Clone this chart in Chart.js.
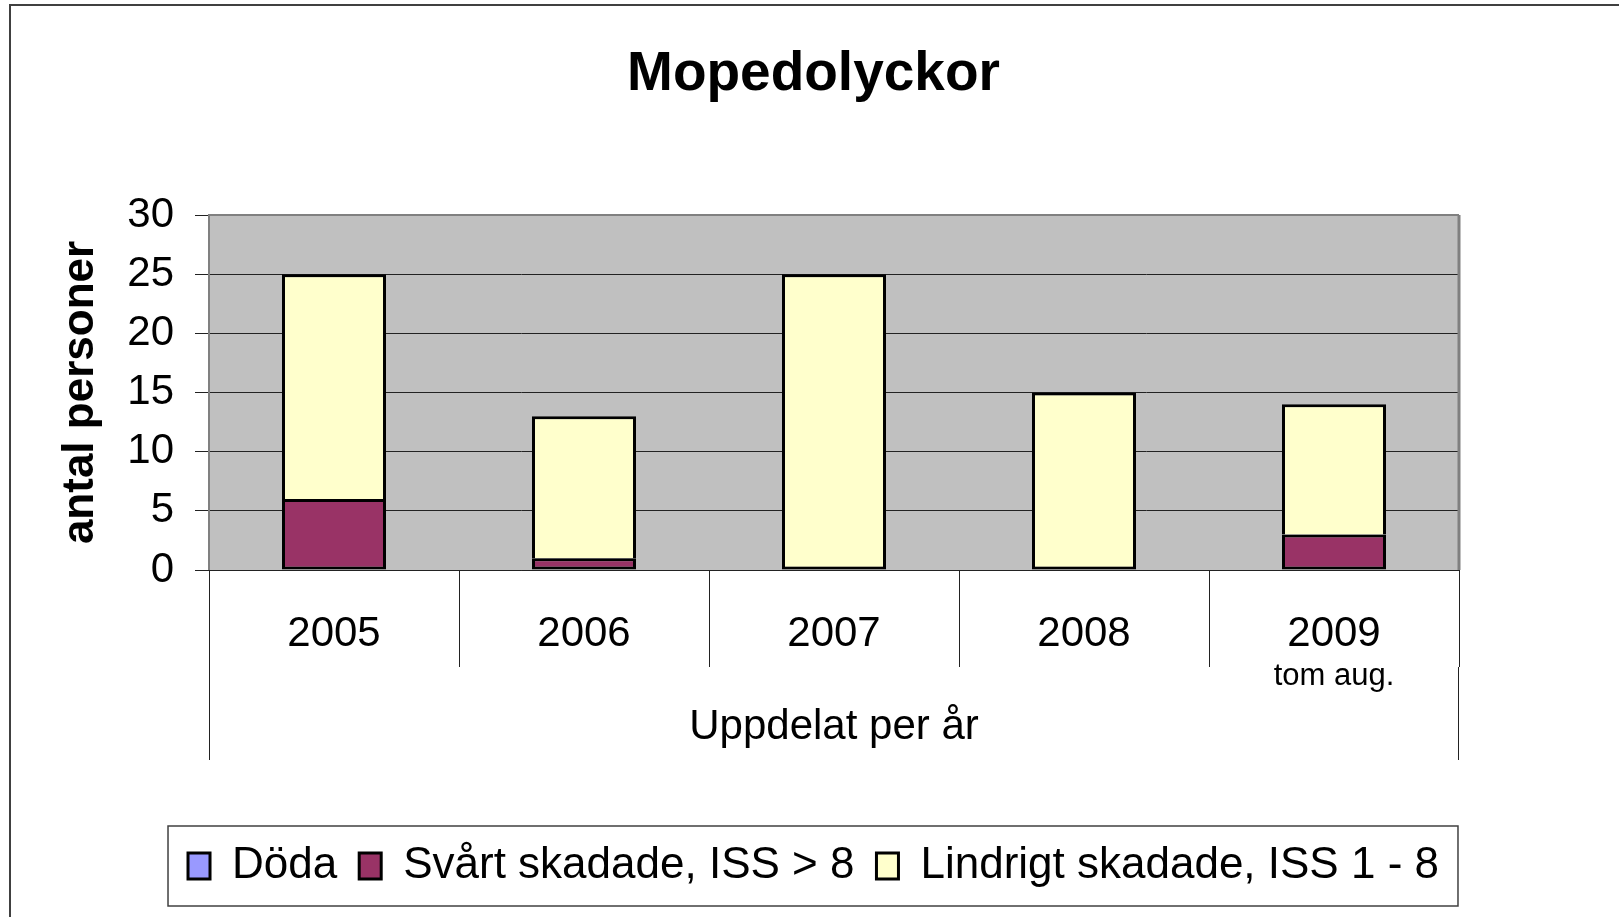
<!DOCTYPE html>
<html>
<head>
<meta charset="utf-8">
<script src="https://cdn.jsdelivr.net/npm/chart.js@4.4.0/dist/chart.umd.min.js"></script>
<style>
html, body { margin: 0; padding: 0; background: #fff; }
#wrap { width: 1619px; height: 917px; }
</style>
</head>
<body>
<div id="wrap"><canvas id="grafica" width="1619" height="917"></canvas></div>
<script>
// Datos del diagrama
const ar = ['2005', '2006', '2007', '2008', '2009'];
const underText = ['', '', '', '', 'tom aug.'];
const doda = [0, 0, 0, 0, 0];
const svart = [6, 1, 0, 0, 3];
const lindrigt = [19, 12, 25, 15, 11];
const yMin = 0, yMax = 30, yStep = 5;

const fam = "'Liberation Sans', Arial, sans-serif";

// Fondo gris, marco y detalles que Chart.js no dibuja solo
const ramPlugin = {
    id: 'ram',
    beforeDraw(chart) {
        const {ctx, chartArea: a} = chart;
        ctx.save();
        ctx.fillStyle = '#c0c0c0';
        ctx.fillRect(a.left, a.top, a.right - a.left, a.bottom - a.top);
        // marco exterior
        ctx.strokeStyle = '#404040';
        ctx.lineWidth = 2;
        ctx.beginPath();
        ctx.moveTo(10, chart.height);
        ctx.lineTo(10, 5);
        ctx.lineTo(chart.width, 5);
        ctx.stroke();
        ctx.restore();
    },
    beforeDatasetsDraw(chart) {
        const {ctx, chartArea: a} = chart;
        ctx.save();
        ctx.strokeStyle = '#808080';
        ctx.lineWidth = 2;
        ctx.beginPath();
        ctx.moveTo(a.left, a.bottom);
        ctx.lineTo(a.left, a.top);
        ctx.lineTo(a.right, a.top);
        ctx.stroke();
        ctx.lineWidth = 3;
        ctx.beginPath();
        ctx.moveTo(a.right, a.top);
        ctx.lineTo(a.right, a.bottom);
        ctx.stroke();
        ctx.restore();
    },
    afterDraw(chart) {
        const {ctx, chartArea: a} = chart;
        const x = chart.scales.x;
        ctx.save();
        // lineas exteriores largas bajo el eje x
        ctx.strokeStyle = '#222';
        ctx.lineWidth = 1;
        const y0 = x.top + x.options.grid.tickLength;
        ctx.beginPath();
        ctx.moveTo(a.left + 0.5, y0);
        ctx.lineTo(a.left + 0.5, x.top + 190);
        ctx.moveTo(a.right - 0.5, y0);
        ctx.lineTo(a.right - 0.5, x.top + 190);
        ctx.stroke();
        // texto secundario bajo las etiquetas
        ctx.fillStyle = '#000';
        ctx.font = '31px ' + fam;
        ctx.textAlign = 'center';
        ctx.textBaseline = 'middle';
        underText.forEach((t, i) => {
            if (t) ctx.fillText(t, x.getPixelForTick(i), x.top + 106);
        });
        // caja de la leyenda
        const hb = chart.legend.legendHitBoxes;
        if (hb && hb.length) {
            const l = hb[0].left - 20;
            const last = hb[hb.length - 1];
            const r = last.left + last.width + 19;
            const t = hb[0].top - 18;
            const b = hb[0].top + hb[0].height + 18;
            ctx.strokeStyle = '#404040';
            ctx.lineWidth = 1.5;
            ctx.strokeRect(l, t, r - l, b - t);
        }
        ctx.restore();
    }
};

const ctx = document.getElementById('grafica').getContext('2d');
new Chart(ctx, {
    type: 'bar',
    data: {
        labels: ar,
        datasets: [
            {
                label: 'Döda',
                data: doda,
                backgroundColor: '#9999ff',
                borderColor: '#000',
                borderWidth: 3,
                borderSkipped: false,
            },
            {
                label: 'Svårt skadade, ISS > 8',
                data: svart,
                backgroundColor: '#993366',
                borderColor: '#000',
                borderWidth: 3,
                borderSkipped: false,
            },
            {
                label: 'Lindrigt skadade, ISS 1 - 8',
                data: lindrigt,
                backgroundColor: '#ffffcc',
                borderColor: '#000',
                borderWidth: 3,
                // sin borde inferior si ya hay una barra debajo
                borderSkipped: c => (svart[c.dataIndex] > 0 ? 'bottom' : false),
            },
        ],
    },
    options: {
        responsive: false,
        animation: false,
        barPercentage: 0.416,
        categoryPercentage: 1,
        layout: { padding: { left: 8, right: 0, top: 0, bottom: 19 } },
        plugins: {
            title: {
                display: true,
                text: 'Mopedolyckor',
                color: '#000',
                font: { family: fam, size: 55, weight: 'bold' },
                padding: { top: 42, bottom: 107 },
            },
            legend: {
                position: 'bottom',
                labels: {
                    color: '#000',
                    font: { family: fam, size: 44 },
                    boxWidth: 22,
                    boxHeight: 26,
                    padding: 22,
                },
            },
            tooltip: { enabled: false },
        },
        scales: {
            x: {
                stacked: true,
                grid: {
                    offset: true,
                    drawOnChartArea: false,
                    tickLength: 97,
                    color: '#222',
                    lineWidth: 1,
                },
                border: { color: '#222', width: 1 },
                ticks: {
                    color: '#000',
                    font: { family: fam, size: 42 },
                    padding: -58,
                    maxRotation: 0,
                },
                title: {
                    display: true,
                    text: 'Uppdelat per år',
                    color: '#000',
                    font: { family: fam, size: 42 },
                    padding: { top: 0, bottom: 69 },
                },
                afterFit(s) { s.height = 252; },
            },
            y: {
                stacked: true,
                min: yMin,
                max: yMax,
                grid: { color: '#222', lineWidth: 1, tickLength: 14 },
                border: { display: false },
                ticks: {
                    stepSize: yStep,
                    color: '#000',
                    font: { family: fam, size: 42 },
                    padding: 21,
                },
                title: {
                    display: true,
                    text: 'antal personer',
                    color: '#000',
                    font: { family: fam, size: 44, weight: 'bold' },
                    padding: { top: 46, bottom: 0 },
                },
                afterFit(s) { s.width = 201; },
            },
            y2: {
                position: 'right',
                display: true,
                grid: { display: false },
                ticks: { display: false },
                border: { display: false },
                afterFit(s) { s.width = 160; },
            },
        },
    },
    plugins: [ramPlugin],
});
</script>
</body>
</html>
